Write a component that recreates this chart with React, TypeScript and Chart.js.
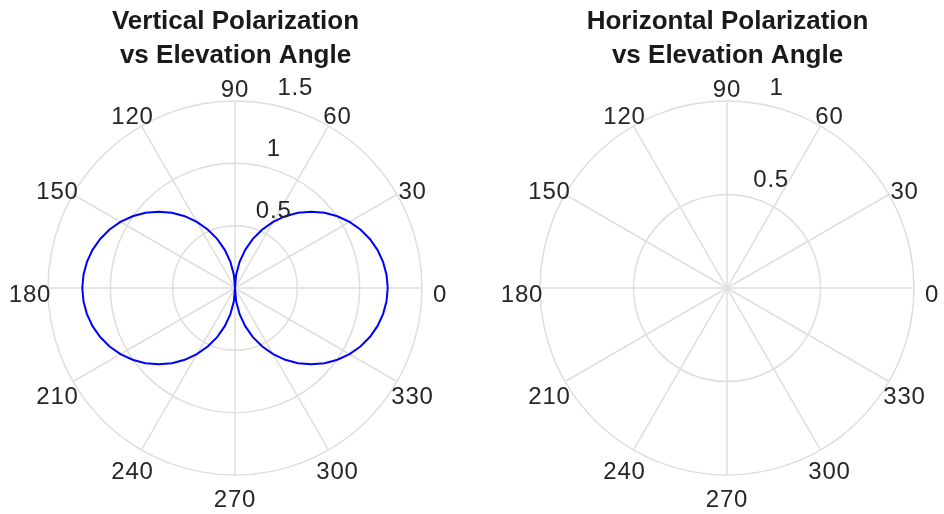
import React, { useEffect, useRef } from 'react';
import { Chart, registerables } from 'chart.js';

Chart.register(...registerables);

// Elevation angles (degrees, counter-clockwise from 0 at the right)
const ANGLES_DEG = [
  0, 5, 10, 15, 20, 25, 30, 35, 40, 45, 50, 55, 60, 65, 70, 75, 80, 85,
  90, 95, 100, 105, 110, 115, 120, 125, 130, 135, 140, 145, 150, 155, 160, 165, 170, 175,
  180, 185, 190, 195, 200, 205, 210, 215, 220, 225, 230, 235, 240, 245, 250, 255, 260, 265,
  270, 275, 280, 285, 290, 295, 300, 305, 310, 315, 320, 325, 330, 335, 340, 345, 350, 355,
];

// Vertical polarization magnitude
const VERTICAL_GAIN = [
  1.225, 1.22, 1.206, 1.183, 1.151, 1.11, 1.061, 1.003, 0.938, 0.866, 0.787, 0.703, 0.612, 0.518, 0.419, 0.317, 0.213, 0.107,
  0, 0.107, 0.213, 0.317, 0.419, 0.518, 0.612, 0.703, 0.787, 0.866, 0.938, 1.003, 1.061, 1.11, 1.151, 1.183, 1.206, 1.22,
  1.225, 1.22, 1.206, 1.183, 1.151, 1.11, 1.061, 1.003, 0.938, 0.866, 0.787, 0.703, 0.612, 0.518, 0.419, 0.317, 0.213, 0.107,
  0, 0.107, 0.213, 0.317, 0.419, 0.518, 0.612, 0.703, 0.787, 0.866, 0.938, 1.003, 1.061, 1.11, 1.151, 1.183, 1.206, 1.22,
];

// Horizontal polarization magnitude (nothing visible in the right plot)
const HORIZONTAL_GAIN = [
  0, 0, 0, 0, 0, 0, 0, 0, 0, 0, 0, 0, 0, 0, 0, 0, 0, 0,
  0, 0, 0, 0, 0, 0, 0, 0, 0, 0, 0, 0, 0, 0, 0, 0, 0, 0,
  0, 0, 0, 0, 0, 0, 0, 0, 0, 0, 0, 0, 0, 0, 0, 0, 0, 0,
  0, 0, 0, 0, 0, 0, 0, 0, 0, 0, 0, 0, 0, 0, 0, 0, 0, 0,
];

const THETA_TICKS = [0, 30, 60, 90, 120, 150, 180, 210, 240, 270, 300, 330];
const LEFT_R_TICKS = [0.5, 1, 1.5];
const RIGHT_R_TICKS = [0.5, 1];
const LEFT_R_MAX = 1.5;
const RIGHT_R_MAX = 1;
const LEFT_TITLE = ['Vertical Polarization', 'vs Elevation Angle'];
const RIGHT_TITLE = ['Horizontal Polarization', 'vs Elevation Angle'];
const R_TICK_ANGLE = 80;

const FONT = '"Liberation Sans", Arial, Helvetica, sans-serif';
const TEXT_COLOR = '#262626';
const GRID_COLOR = '#dedede';
const LINE_COLOR = '#0000ff';

type PanelProps = {
  values: number[];
  rMax: number;
  rTicks: number[];
  title: string[];
  padLeft: number;
  padRight: number;
};

function Panel({ values, rMax, rTicks, title, padLeft, padRight }: PanelProps) {
  const ref = useRef<HTMLCanvasElement | null>(null);

  useEffect(() => {
    if (!ref.current) return;
    // radar index i runs clockwise from the right (startAngle 90)
    const order: number[] = ANGLES_DEG.map((_, i) => (360 - i * 5) % 360);
    const labels = order.map((d) => String(d));
    const data = order.map((d) => values[ANGLES_DEG.indexOf(d)]);

    const labelPlugin = {
      id: 'polarLabels',
      afterDraw(chart: any) {
        const s = chart.scales.r;
        const ctx = chart.ctx as CanvasRenderingContext2D;
        ctx.save();
        ctx.fillStyle = TEXT_COLOR;
        ctx.font = `24px ${FONT}`;
        (ctx as any).letterSpacing = '0.8px';
        ctx.textAlign = 'center';
        ctx.textBaseline = 'middle';
        const R = s.getDistanceFromCenterForValue(rMax);
        THETA_TICKS.forEach((t) => {
          const a = (t * Math.PI) / 180;
          const d = R + 18;
          ctx.fillText(String(t), s.xCenter + d * Math.cos(a), s.yCenter - d * Math.sin(a) + 7);
        });
        ctx.textAlign = 'left';
        ctx.textBaseline = 'alphabetic';
        const ra = (R_TICK_ANGLE * Math.PI) / 180;
        rTicks.forEach((v) => {
          const d = s.getDistanceFromCenterForValue(v);
          ctx.fillText(String(v), s.xCenter + d * Math.cos(ra) + 10, s.yCenter - d * Math.sin(ra) - 9);
        });
        ctx.restore();
      },
    };

    const chart = new Chart(ref.current, {
      type: 'radar',
      data: {
        labels,
        datasets: [
          {
            data,
            borderColor: LINE_COLOR,
            borderWidth: 2,
            pointRadius: 0,
            pointHoverRadius: 0,
            fill: false,
            tension: 0,
          },
        ],
      },
      options: {
        animation: false,
        responsive: false,
        events: [],
        layout: { padding: { left: padLeft, right: padRight, top: 0, bottom: 38 } },
        plugins: {
          legend: { display: false },
          tooltip: { enabled: false },
          title: {
            display: true,
            text: title,
            color: '#1a1a1a',
            font: { family: FONT, size: 26, weight: 'bold', lineHeight: 1.31 },
            padding: { top: 5, bottom: 28.5 },
          },
        },
        scales: {
          r: {
            min: 0,
            max: rMax,
            startAngle: 90,
            ticks: { display: false, stepSize: 0.5 },
            pointLabels: { display: false },
            grid: { circular: true, color: GRID_COLOR, lineWidth: 1.5 },
            angleLines: {
              display: true,
              color: (c: any) => (order[c.index] % 30 === 0 ? GRID_COLOR : 'rgba(0,0,0,0)'),
              lineWidth: (c: any) => (order[c.index] % 30 === 0 ? 1.5 : 0),
            },
          },
        },
      },
      plugins: [labelPlugin],
    } as any);

    return () => chart.destroy();
  }, [values, rMax, rTicks, title, padLeft, padRight]);

  return <canvas ref={ref} width={472} height={514} style={{ display: 'block', width: 472, height: 514 }} />;
}

export default function App() {
  useEffect(() => {
    document.body.style.margin = '0';
  }, []);
  return (
    <div style={{ position: 'absolute', left: 0, top: 0, width: 944, height: 514, display: 'flex', background: '#fff', overflow: 'hidden' }}>
      <Panel values={VERTICAL_GAIN} rMax={LEFT_R_MAX} rTicks={LEFT_R_TICKS} title={LEFT_TITLE} padLeft={48} padRight={49} />
      <Panel values={HORIZONTAL_GAIN} rMax={RIGHT_R_MAX} rTicks={RIGHT_R_TICKS} title={RIGHT_TITLE} padLeft={68} padRight={29} />
    </div>
  );
}
